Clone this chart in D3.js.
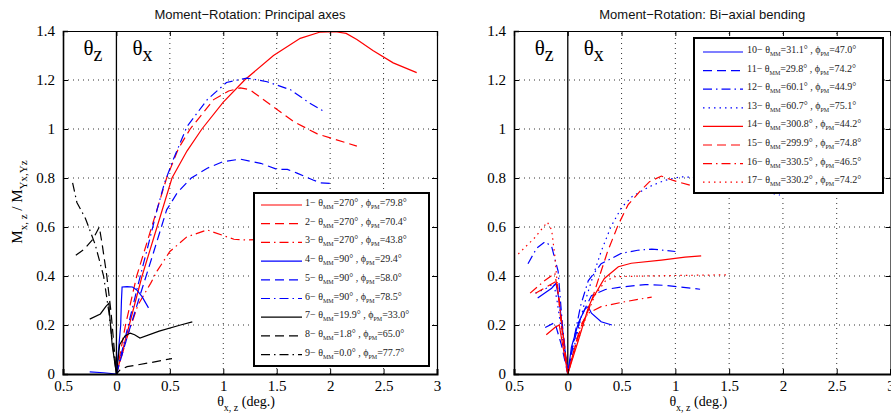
<!DOCTYPE html>
<html><head><meta charset="utf-8">
<script src="https://cdn.jsdelivr.net/npm/d3@7"></script>
<style>body{margin:0;background:#fff}svg{display:block}</style>
</head><body>
<svg id="chart" width="891" height="417"></svg>
<script>
// ---------- data ----------
const xTicks = [-0.5, 0, 0.5, 1, 1.5, 2, 2.5, 3];
const yTicks = [0, 0.2, 0.4, 0.6, 0.8, 1, 1.2, 1.4];
const titles = ["Moment\u2212Rotation: Principal axes", "Moment\u2212Rotation: Bi\u2212axial bending"];

// left panel curves (x < 0 : theta_z, x > 0 : theta_x)
const c1 = [[0,0],[0.12,0.2],[0.24,0.4],[0.38,0.6],[0.52,0.8],[0.66,0.91],[0.8,1.0],[1.0,1.11],[1.2,1.2],[1.47,1.3],[1.72,1.37],[1.9,1.395],[2.05,1.397],[2.15,1.39],[2.25,1.365],[2.4,1.32],[2.59,1.27],[2.81,1.23]];
const c2 = [[0,0],[0.085,0.2],[0.19,0.4],[0.33,0.6],[0.47,0.8],[0.58,0.92],[0.69,1.0],[0.91,1.12],[1.05,1.155],[1.16,1.168],[1.25,1.16],[1.47,1.09],[1.66,1.03],[1.88,0.98],[2.03,0.96],[2.25,0.93]];
const c3 = [[0,0],[0.1,0.15],[0.2,0.28],[0.32,0.37],[0.38,0.42],[0.5,0.5],[0.66,0.56],[0.85,0.588],[1.0,0.565],[1.1,0.55],[1.22,0.547],[1.4,0.55],[1.6,0.56],[1.8,0.57]];
const c4 = [[-0.25,0.009],[-0.12,0.005],[0,0],[0.04,0.2],[0.047,0.3],[0.053,0.355],[0.1,0.357],[0.15,0.355],[0.19,0.343],[0.24,0.316],[0.3,0.27]];
const c5 = [[0,0],[0.1,0.15],[0.22,0.32],[0.35,0.5],[0.47,0.67],[0.57,0.74],[0.7,0.8],[0.85,0.84],[1.0,0.867],[1.16,0.877],[1.35,0.86],[1.5,0.836],[1.6,0.835],[1.69,0.82],[1.84,0.792],[1.91,0.78],[2.0,0.778]];
const c6 = [[0,0],[0.1,0.18],[0.2,0.36],[0.3,0.53],[0.38,0.67],[0.45,0.78],[0.53,0.873],[0.66,1.01],[0.85,1.12],[1.03,1.19],[1.22,1.208],[1.41,1.193],[1.63,1.16],[1.81,1.105],[1.95,1.07]];
const c7 = [[-0.25,0.224],[-0.15,0.245],[-0.1,0.275],[-0.07,0.289],[-0.065,0.25],[-0.04,0.12],[0,0],[0.03,0.12],[0.08,0.155],[0.13,0.167],[0.17,0.16],[0.22,0.147],[0.4,0.175],[0.6,0.2],[0.71,0.213]];
const c8 = [[-0.38,0.485],[-0.3,0.51],[-0.22,0.55],[-0.16,0.6],[-0.13,0.52],[-0.09,0.4],[-0.05,0.25],[-0.02,0.1],[0,0],[0.03,0.015],[0.1,0.03],[0.3,0.045],[0.52,0.063]];
const c9 = [[-0.41,0.78],[-0.37,0.7],[-0.29,0.635],[-0.2,0.53],[-0.12,0.4],[-0.07,0.25],[-0.03,0.1],[0,0]];

// right panel curves
const c10 = [[-0.28,0.31],[-0.2,0.335],[-0.15,0.35],[-0.11,0.37],[-0.08,0.3],[-0.04,0.15],[0,0],[0.034,0.11],[0.1,0.21],[0.16,0.265],[0.19,0.275],[0.22,0.248],[0.31,0.213],[0.41,0.2]];
const c11 = [[-0.21,0.19],[-0.12,0.21],[-0.06,0.12],[0,0],[0.05,0.12],[0.12,0.23],[0.22,0.32],[0.35,0.345],[0.5,0.355],[0.72,0.365],[0.9,0.362],[1.02,0.356],[1.23,0.346]];
const c12 = [[-0.37,0.45],[-0.29,0.513],[-0.21,0.54],[-0.15,0.52],[-0.09,0.42],[-0.05,0.2],[0,0],[0.06,0.15],[0.12,0.28],[0.19,0.38],[0.31,0.45],[0.5,0.493],[0.65,0.505],[0.78,0.51],[1.0,0.5]];
const c13 = [[-0.3,0.33],[-0.2,0.35],[-0.13,0.37],[-0.1,0.3],[-0.05,0.15],[0,0],[0.08,0.15],[0.15,0.28],[0.22,0.38],[0.31,0.5],[0.4,0.6],[0.5,0.68],[0.6,0.725],[0.76,0.765],[0.9,0.79],[1.05,0.805],[1.3,0.8],[1.6,0.77],[1.97,0.73]];
const c14 = [[-0.2,0.16],[-0.12,0.19],[-0.08,0.2],[-0.04,0.1],[0,0],[0.05,0.07],[0.1,0.14],[0.19,0.27],[0.22,0.3],[0.34,0.39],[0.47,0.438],[0.59,0.452],[0.87,0.465],[1.09,0.477],[1.24,0.482]];
const c15 = [[-0.3,0.33],[-0.18,0.36],[-0.1,0.38],[-0.06,0.2],[0,0],[0.06,0.1],[0.13,0.2],[0.2,0.27],[0.28,0.38],[0.37,0.5],[0.47,0.61],[0.56,0.69],[0.67,0.745],[0.76,0.785],[0.87,0.808],[0.98,0.79],[1.14,0.77],[1.4,0.76]];
const c16 = [[-0.35,0.33],[-0.21,0.383],[-0.12,0.41],[-0.08,0.3],[-0.04,0.15],[0,0],[0.06,0.1],[0.12,0.2],[0.19,0.248],[0.31,0.275],[0.53,0.295],[0.78,0.314]];
const c17 = [[-0.46,0.49],[-0.31,0.555],[-0.19,0.62],[-0.15,0.588],[-0.12,0.48],[-0.09,0.33],[-0.05,0.17],[0,0],[0.08,0.12],[0.16,0.22],[0.25,0.32],[0.35,0.38],[0.44,0.397],[0.72,0.4],[1.0,0.402],[1.49,0.405]];

const leftNums = ["1","2","3","4","5","6","7","8","9"];
const leftThetaMM = ["270","270","270","90","90","90","19.9","1.8","0.0"];
const leftPhiPM = ["79.8","70.4","43.8","29.4","58.0","78.5","33.0","65.0","77.7"];
const rightNums = ["10","11","12","13","14","15","16","17"];
const rightThetaMM = ["31.1","29.8","60.1","60.7","300.8","299.9","330.5","330.2"];
const rightPhiPM = ["47.0","74.2","44.9","75.1","44.2","74.8","46.5","74.2"];

// ---------- styles ----------
const RED = "#ff0000", BLUE = "#0000ff", BLACK = "#000000";
const DASH = "9,5", DASHDOT = "9,4,1.5,4", DOT = "1.5,4";
const leftStyles = [
  [RED, null],[RED, DASH],[RED, DASHDOT],
  [BLUE, null],[BLUE, DASH],[BLUE, DASHDOT],
  [BLACK, null],[BLACK, DASH],[BLACK, DASHDOT]];
const rightStyles = [
  [BLUE, null],[BLUE, DASH],[BLUE, DASHDOT],[BLUE, DOT],
  [RED, null],[RED, DASH],[RED, DASHDOT],[RED, DOT]];

const SERIF = "Liberation Serif";
const SANS = "Liberation Sans";
const svg = d3.select("#chart");

function panel(opt) {
  const x = d3.scaleLinear().domain([-0.5, 3]).range([opt.x0, opt.x1]);
  const y = d3.scaleLinear().domain([0, 1.4]).range([374, 31]);
  const g = svg.append("g");
  const clipId = "clip" + opt.id;
  svg.append("clipPath").attr("id", clipId).append("rect")
    .attr("x", opt.x0).attr("y", 31).attr("width", opt.x1 - opt.x0).attr("height", 343);

  // grid
  g.append("g").selectAll("line").data(xTicks.filter(t => t > 0 && t < 3)).join("line")
    .attr("x1", d => x(d)).attr("x2", d => x(d)).attr("y1", y(0)).attr("y2", y(1.4))
    .attr("stroke", "#333").attr("stroke-width", 1).attr("stroke-dasharray", "1,4");
  g.append("g").selectAll("line").data(yTicks.filter(t => t > 0 && t < 1.4)).join("line")
    .attr("x1", x(-0.5)).attr("x2", x(3)).attr("y1", d => y(d)).attr("y2", d => y(d))
    .attr("stroke", "#333").attr("stroke-width", 1).attr("stroke-dasharray", "1,4");

  // zero line
  g.append("line").attr("x1", x(0)).attr("x2", x(0)).attr("y1", y(0)).attr("y2", y(1.4))
    .attr("stroke", "#000").attr("stroke-width", 1.3);

  // theta labels
  const tz = g.append("text").attr("font-family", SERIF).attr("x", x(0) - 33).attr("y", 55)
    .attr("font-size", 21);
  tz.append("tspan").text("\u03b8");
  tz.append("tspan").attr("dy", 6).attr("font-size", 20).text("z");
  const tx = g.append("text").attr("font-family", SERIF).attr("x", x(0) + 16).attr("y", 55)
    .attr("font-size", 21);
  tx.append("tspan").text("\u03b8");
  tx.append("tspan").attr("dy", 6).attr("font-size", 20).text("x");

  // curves
  const line = d3.line().x(d => x(d[0])).y(d => y(d[1]));
  const cg = g.append("g").attr("clip-path", `url(#${clipId})`);
  opt.curves.forEach((c, i) => {
    cg.append("path").attr("d", line(c)).attr("fill", "none")
      .attr("stroke", opt.styles[i][0]).attr("stroke-width", 1.2)
      .attr("stroke-dasharray", opt.styles[i][1]);
  });

  // axes (box with inward ticks)
  const fmt = d => d === 0 ? "0" : String(Math.abs(d));
  const axB = d3.axisBottom(x).tickValues(xTicks).tickSize(-5).tickPadding(6).tickFormat(fmt);
  const axT = d3.axisTop(x).tickValues(xTicks).tickSize(-5).tickFormat("");
  const axL = d3.axisLeft(y).tickValues(yTicks).tickSize(-5).tickPadding(8).tickFormat(d => String(+d.toFixed(1)));
  const axR = d3.axisRight(y).tickValues(yTicks).tickSize(-5).tickFormat("");
  const styleAx = (sel) => {
    sel.attr("font-family", SERIF).attr("font-size", 15);
    sel.selectAll(".domain").attr("stroke", "#000").attr("stroke-width", 1.2);
    sel.selectAll(".tick line").attr("stroke", "#000");
    sel.selectAll("text").attr("font-family", SERIF).attr("font-size", 15).attr("fill", "#000");
  };
  g.append("g").attr("transform", `translate(0,${y(0)})`).call(axB).call(styleAx)
    .select(".domain").attr("stroke-width", 2);
  g.append("g").attr("transform", `translate(0,${y(1.4)})`).call(axT).call(styleAx);
  g.append("g").attr("transform", `translate(${x(-0.5)},0)`).call(axL).call(styleAx)
    .select(".domain").attr("stroke-width", 1.6);
  g.append("g").attr("transform", `translate(${x(3)},0)`).call(axR).call(styleAx);

  // title
  g.append("text").attr("font-family", SANS).attr("x", (opt.x0 + opt.x1) / 2).attr("y", 19).attr("text-anchor", "middle")
    .attr("font-size", 13).attr("fill", "#111").text(opt.title);

  // x label
  const xl = g.append("text").attr("font-family", SERIF).attr("x", (opt.x0 + opt.x1) / 2 - 4).attr("y", 406).attr("text-anchor", "middle")
    .attr("font-size", 14);
  xl.append("tspan").text("\u03b8");
  xl.append("tspan").attr("dy", 5).attr("font-size", 10).text("x, z");
  xl.append("tspan").attr("dy", -5).text(" (deg.)");

  // legend
  const L = opt.legend;
  const lg = g.append("g");
  lg.append("rect").attr("x", L.x).attr("y", L.y).attr("width", L.w).attr("height", L.h)
    .attr("fill", "#fff").attr("stroke", "#000").attr("stroke-width", 2);
  opt.nums.forEach((n, i) => {
    const yy = L.y + L.first + i * L.step;
    lg.append("line").attr("x1", L.x + L.l0).attr("x2", L.x + L.l1).attr("y1", yy).attr("y2", yy)
      .attr("stroke", opt.styles[i][0]).attr("stroke-width", 1.2).attr("stroke-dasharray", opt.styles[i][1]);
    const t = lg.append("text").attr("font-family", SERIF).attr("x", L.x + L.t0).attr("y", yy + 1)
      .attr("font-size", 10).attr("fill", "#222");
    t.append("tspan").text(n + "\u2212 \u03b8");
    t.append("tspan").attr("dy", 3).attr("font-size", 6).text("MM");
    t.append("tspan").attr("dy", -3).text("=" + opt.theta[i] + "\u00b0 , \u03d5");
    t.append("tspan").attr("dy", 3).attr("font-size", 6).text("PM");
    t.append("tspan").attr("dy", -3).text("=" + opt.phi[i] + "\u00b0");
  });
}

panel({ id: 1, x0: 63, x1: 437, title: titles[0],
  curves: [c1,c2,c3,c4,c5,c6,c7,c8,c9], styles: leftStyles,
  nums: leftNums, theta: leftThetaMM, phi: leftPhiPM,
  legend: { x: 254, y: 193, w: 175, h: 173, first: 12, step: 18.7, l0: 7, l1: 48, t0: 51 } });
panel({ id: 2, x0: 514, x1: 890.5, title: titles[1],
  curves: [c10,c11,c12,c13,c14,c15,c16,c17], styles: rightStyles,
  nums: rightNums, theta: rightThetaMM, phi: rightPhiPM,
  legend: { x: 694, y: 38, w: 189, h: 155, first: 14, step: 18.6, l0: 9, l1: 49, t0: 53 } });

// y label (left only)
const yl = svg.append("text").attr("font-family", SERIF).attr("transform", "translate(22,202) rotate(-90)").attr("text-anchor", "middle")
  .attr("font-size", 15);
yl.append("tspan").text("M");
yl.append("tspan").attr("dy", 5).attr("font-size", 11).text("x, z");
yl.append("tspan").attr("dy", -5).text(" / M");
yl.append("tspan").attr("dy", 5).attr("font-size", 11).text("Yx,Yz");
</script>
</body></html>
